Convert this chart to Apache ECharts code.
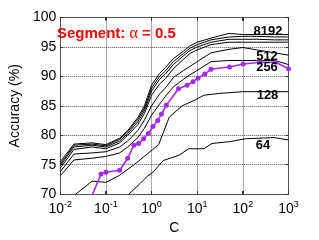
<!DOCTYPE html>
<html><head><meta charset="utf-8">
<script src="https://cdn.jsdelivr.net/npm/echarts@6/dist/echarts.min.js"></script>
<style>html,body{margin:0;padding:0;background:#fff}#c{width:319px;height:240px}</style>
</head><body><div id="c"></div>
<script>
const C_VALUES = [0.01,0.02,0.05,0.1,0.2,0.3,0.5,0.7,1,1.5,2,3,5,7,10,20,50,100,200,500,1000];
const ACC_8192 = [75.5,78.5,78.7,78.4,79.5,80.8,83.0,85.0,88.5,90.5,91.5,93.0,94.3,95.2,95.8,96.5,97.3,97.1,97.1,97.1,97.1];
const ACC_4096 = [75.1,78.3,78.5,78.2,79.3,80.6,82.7,84.6,88.0,90.0,90.9,92.5,93.9,94.8,95.4,96.2,96.7,96.8,96.8,96.7,96.7];
const ACC_2048 = [74.8,78.0,78.3,78.0,79.0,80.3,82.3,84.2,87.5,89.5,90.4,92.0,93.5,94.4,95.0,95.8,96.3,96.3,96.3,96.2,96.2];
const ACC_1024 = [74.4,77.6,78.0,77.7,78.7,80.0,81.8,83.7,86.8,88.7,89.6,91.3,92.9,93.9,94.5,95.4,95.8,95.8,95.8,95.8,95.8];
const ACC_512  = [73.8,76.8,77.0,77.2,78.0,79.0,80.8,82.6,85.0,87.0,88.0,89.8,91.0,91.7,92.5,94.0,94.6,94.9,94.5,94.0,93.6];
const ACC_256  = [73.1,75.8,76.1,76.4,77.0,78.0,79.6,81.2,83.4,85.3,86.6,88.2,89.5,90.3,91.0,92.5,92.7,92.7,92.7,92.7,92.0];

const C_128   = [0.015,0.05,0.1,0.2,0.4,0.8,1.43,2.45,4.7,9,14,30,100,1000];
const ACC_128 = [69.0,72.2,72.0,73.2,74.9,76.8,78.4,83.1,85.0,86.0,86.8,87.1,87.4,87.4];

const C_64   = [0.2,0.58,0.8,1.1,1.8,4,6.5,14,21,51,113,480,1000];
const ACC_64 = [68.5,71.9,73.0,73.8,75.7,76.6,77.7,77.7,78.6,78.9,79.4,79.6,79.2];

const C_SEG   = [0.04,0.078,0.1,0.2,0.3,0.41,0.52,0.67,0.85,1.07,1.37,1.65,2.1,3.9,6,8.1,10.4,14.7,20,51,102,232,525,1000];
const ACC_SEG = [68.0,73.4,73.7,74.05,76.1,78.3,78.6,79.4,80.3,81.5,82.5,83.6,85.1,87.9,88.5,89.1,89.7,90.4,91.2,91.6,92.1,92.4,92.4,91.3];

const MINOR_K = [2, 3, 4, 5, 6, 7, 8, 9];
const LINE_LABELS = ['8192','512','256','128','64'];

const zip = (xs, ys) => xs.map((x, i) => [x, ys[i]]);
const blackLine = (xs, ys) => ({
  type: 'line', data: zip(xs, ys), showSymbol: false, symbol: 'none',
  lineStyle: {color: '#000', width: 1}, clip: true, z: 2
});

const FONT = 'Liberation Sans, Arial, Helvetica, sans-serif';
const AXIS_LINE = {show: true, onZero: false, lineStyle: {color: '#555', width: 1}};
const TICK = {show: true, inside: true, length: 3, lineStyle: {color: '#333', width: 1}};
const GRIDLINE = {show: true, lineStyle: {color: '#555', type: 'dotted', width: 1}};
const chart = echarts.init(document.getElementById('c'), null, {renderer: 'canvas'});

// helper value axis in log10 space shifted by log10(k): its integer ticks fall at k*10^n
const minorAxis = (pos, k) => ({
  type: 'value', min: -2 - Math.log10(k), max: 3 - Math.log10(k), interval: 1, position: pos,
  axisLine: {show: false}, axisLabel: {show: false}, splitLine: {show: false},
  axisTick: TICK
});

const xAxes = [
  {
    type: 'log', logBase: 10, min: 0.01, max: 1000, position: 'bottom',
    name: 'C', nameLocation: 'middle', nameGap: 23,
    nameTextStyle: {fontFamily: FONT, fontSize: 14, color: '#000'},
    axisLine: AXIS_LINE, axisTick: TICK, splitLine: GRIDLINE,
    axisLabel: {
      show: true, margin: 6, color: '#000',
      formatter: v => '{b|10}{s|' + Math.round(Math.log10(v)) + '}',
      rich: {
        b: {fontFamily: FONT, fontSize: 14, color: '#000'},
        s: {fontFamily: FONT, fontSize: 9, color: '#000', padding: [0, 0, 9, 0]}
      }
    }
  },
  {
    type: 'log', logBase: 10, min: 0.01, max: 1000, position: 'top',
    axisLine: AXIS_LINE, axisTick: TICK, splitLine: {show: false}, axisLabel: {show: false}
  }
];
MINOR_K.forEach(k => { xAxes.push(minorAxis('bottom', k)); xAxes.push(minorAxis('top', k)); });

chart.setOption({
  animation: false,
  grid: {left: 48.5, right: 30.5, top: 17.5, bottom: 40},
  xAxis: xAxes,
  yAxis: [
    {
      type: 'value', min: 70, max: 100, interval: 5, position: 'left',
      name: 'Accuracy (%)', nameLocation: 'middle', nameGap: 33,
      nameTextStyle: {fontFamily: FONT, fontSize: 14, color: '#000'},
      axisLine: AXIS_LINE, axisTick: TICK, splitLine: GRIDLINE,
      axisLabel: {fontFamily: FONT, fontSize: 14, color: '#000', margin: 4}
    },
    {
      type: 'value', min: 70, max: 100, interval: 5, position: 'right',
      axisLine: AXIS_LINE, axisTick: TICK,
      splitLine: {show: false}, axisLabel: {show: false}
    }
  ],
  series: [
    blackLine(C_VALUES, ACC_8192),
    blackLine(C_VALUES, ACC_4096),
    blackLine(C_VALUES, ACC_2048),
    blackLine(C_VALUES, ACC_1024),
    blackLine(C_VALUES, ACC_512),
    blackLine(C_VALUES, ACC_256),
    blackLine(C_128, ACC_128),
    blackLine(C_64, ACC_64),
    {
      type: 'line', data: zip(C_SEG, ACC_SEG), clip: true, z: 3,
      symbol: 'circle', symbolSize: 5, showSymbol: true,
      itemStyle: {color: '#a52af0'},
      lineStyle: {color: '#a52af0', width: 1.6}
    }
  ],
  graphic: [
    {type: 'text', x: 57, y: 33.5, z: 10, style: {
      text: '{b|Segment: }{a|α}{b| = 0.5}', align: 'left', verticalAlign: 'middle',
      rich: {
        b: {fontFamily: FONT, fontWeight: 'bold', fontSize: 15, fill: '#ff0000', color: '#ff0000'},
        a: {fontFamily: 'Liberation Serif, DejaVu Serif, serif', fontSize: 16, fill: '#ff0000', color: '#ff0000'}
      }
    }},
    {type: 'text', x: 268, y: 31, z: 10, style: {text: LINE_LABELS[0], font: 'bold 13px ' + FONT, fill: '#000', align: 'center', verticalAlign: 'middle'}},
    {type: 'text', x: 267, y: 56, z: 10, style: {text: LINE_LABELS[1], font: 'bold 13px ' + FONT, fill: '#000', align: 'center', verticalAlign: 'middle'}},
    {type: 'text', x: 267, y: 67.5, z: 10, style: {text: LINE_LABELS[2], font: 'bold 13px ' + FONT, fill: '#000', align: 'center', verticalAlign: 'middle'}},
    {type: 'text', x: 267.5, y: 95, z: 10, style: {text: LINE_LABELS[3], font: 'bold 13px ' + FONT, fill: '#000', align: 'center', verticalAlign: 'middle'}},
    {type: 'text', x: 263, y: 145, z: 10, style: {text: LINE_LABELS[4], font: 'bold 13px ' + FONT, fill: '#000', align: 'center', verticalAlign: 'middle'}}
  ]
});
</script>
</body></html>
